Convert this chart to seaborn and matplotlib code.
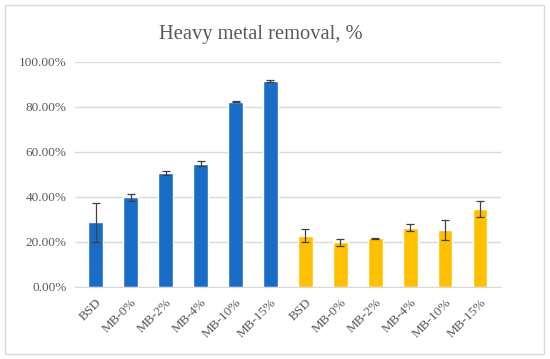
import seaborn as sns
import matplotlib.pyplot as plt
import matplotlib.ticker as mtick
import pandas as pd

labels = ['BSD', 'MB-0%', 'MB-2%', 'MB-4%', 'MB-10%', 'MB-15%']
blue_vals = [28.7, 39.9, 50.7, 54.8, 82.4, 91.4]
blue_err = [8.5, 1.6, 0.8, 1.0, 0.2, 0.5]
yellow_vals = [22.7, 19.8, 21.6, 26.4, 25.2, 34.5]
yellow_err = [2.9, 1.4, 0.2, 1.6, 4.5, 3.6]

df = pd.DataFrame({
    'key': [f'a{i}' for i in range(6)] + [f'b{i}' for i in range(6)],
    'label': labels + labels,
    'value': blue_vals + yellow_vals,
    'err': blue_err + yellow_err,
    'group': ['blue'] * 6 + ['yellow'] * 6,
})

sns.set_style('white')
plt.rcParams['font.family'] = ['Liberation Serif', 'DejaVu Serif']

fig = plt.figure(figsize=(5.5, 3.59), dpi=100)
ax = fig.add_axes([0.136, 0.2006, 0.775, 0.6267])

palette = {'blue': '#1A6DC6', 'yellow': '#FFC000'}
sns.barplot(data=df, x='key', y='value', hue='group', palette=palette,
            dodge=False, width=0.42, legend=False, ax=ax, saturation=1)

ax.errorbar(range(len(df)), df['value'], yerr=df['err'], fmt='none',
            ecolor='#404040', elinewidth=0.9, capsize=3, capthick=0.9, zorder=5)

ax.set_ylim(0, 100)
ax.set_xlim(-0.6, 11.6)
ax.yaxis.set_major_locator(mtick.MultipleLocator(20))
ax.yaxis.set_major_formatter(mtick.FuncFormatter(lambda v, p: f'{v:.2f}%'))
ax.grid(axis='y', color='#D9D9D9', linewidth=1)
ax.set_axisbelow(True)
for s in ['top', 'right', 'left']:
    ax.spines[s].set_visible(False)
ax.spines['bottom'].set_color('#D9D9D9')
ax.tick_params(axis='both', length=0, colors='#595959', labelsize=9.5)
ax.tick_params(axis='y', pad=6)
ax.tick_params(axis='x', pad=7)
ax.set_xticks(range(len(df)))
ax.set_xticklabels(df['label'], rotation=45, ha='right', rotation_mode='anchor')
ax.set_xlabel('')
ax.set_ylabel('')

fig.text(0.475, 0.905, 'Heavy metal removal, %', ha='center', va='center',
         fontsize=14.8, color='#595959')

fig.patches.append(plt.Rectangle((0.009, 0.014), 0.98, 0.972, transform=fig.transFigure,
                                 fill=False, edgecolor='#D9D9D9', linewidth=1))

fig.savefig('out.png', dpi=100)
